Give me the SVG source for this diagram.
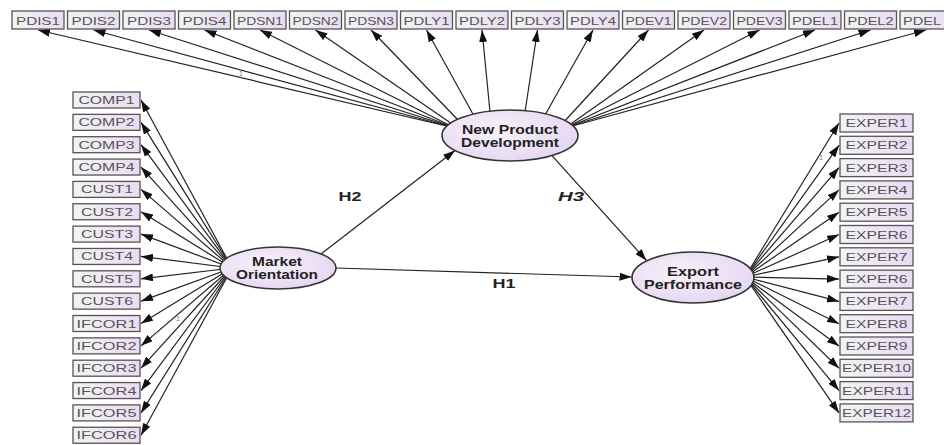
<svg xmlns="http://www.w3.org/2000/svg" width="944" height="445" viewBox="0 0 944 445">
<defs>
<linearGradient id="boxg" x1="0" y1="0" x2="1" y2="0">
<stop offset="0" stop-color="#f3f3f3"/>
<stop offset="1" stop-color="#eadbf3"/>
</linearGradient>
<radialGradient id="ellg" cx="0.4" cy="0.4" r="0.7">
<stop offset="0" stop-color="#f7f2fb"/>
<stop offset="1" stop-color="#e4d4f0"/>
</radialGradient>
<marker id="arr" markerUnits="userSpaceOnUse" markerWidth="13" markerHeight="8" refX="12" refY="4" orient="auto">
<path d="M0,0 L12,4 L0,8 Z" fill="#111"/>
</marker>
</defs>
<style>
.box{fill:url(#boxg);stroke:#555;stroke-width:1.3}
.bt{font-family:"Liberation Sans",Arial,sans-serif;font-size:11px;fill:#555;text-anchor:middle}
.ell{fill:url(#ellg);stroke:#333;stroke-width:1.6}
.et{font-family:"Liberation Sans",Arial,sans-serif;font-size:12px;font-weight:bold;fill:#222;text-anchor:middle}
.ln{stroke:#222;stroke-width:1.2;fill:none;marker-end:url(#arr)}
.hl{font-family:"Liberation Sans",Arial,sans-serif;font-size:13px;font-weight:bold;fill:#222;text-anchor:middle}
.one{font-family:"Liberation Sans",Arial,sans-serif;font-size:7px;fill:#777}
</style>
<rect width="944" height="445" fill="#fff"/>

<g id="connectors">
<line class="ln" x1="455" y1="128" x2="38" y2="30"/>
<line class="ln" x1="455" y1="128" x2="93.5" y2="30"/>
<line class="ln" x1="455" y1="128" x2="149" y2="30"/>
<line class="ln" x1="455" y1="128" x2="204.5" y2="30"/>
<line class="ln" x1="455" y1="128" x2="260" y2="30"/>
<line class="ln" x1="455" y1="126" x2="315.5" y2="30"/>
<line class="ln" x1="460" y1="122" x2="371" y2="30"/>
<line class="ln" x1="474" y1="116" x2="426.5" y2="30"/>
<line class="ln" x1="490" y1="112" x2="482" y2="30"/>
<line class="ln" x1="525" y1="112" x2="537.5" y2="30"/>
<line class="ln" x1="545" y1="115" x2="593" y2="30"/>
<line class="ln" x1="562" y1="124" x2="648.5" y2="30"/>
<line class="ln" x1="565" y1="128" x2="704" y2="30"/>
<line class="ln" x1="565" y1="128" x2="759.5" y2="30"/>
<line class="ln" x1="565" y1="128" x2="815" y2="30"/>
<line class="ln" x1="565" y1="128" x2="870.5" y2="30"/>
<line class="ln" x1="565" y1="128" x2="926" y2="30"/>
<line class="ln" x1="232" y1="268" x2="141" y2="100"/>
<line class="ln" x1="232" y1="268" x2="141" y2="122.35"/>
<line class="ln" x1="232" y1="268" x2="141" y2="144.7"/>
<line class="ln" x1="232" y1="268" x2="141" y2="167.05"/>
<line class="ln" x1="232" y1="268" x2="141" y2="189.4"/>
<line class="ln" x1="232" y1="268" x2="141" y2="211.75"/>
<line class="ln" x1="232" y1="268" x2="141" y2="234.1"/>
<line class="ln" x1="232" y1="268" x2="141" y2="256.45"/>
<line class="ln" x1="232" y1="268" x2="141" y2="278.8"/>
<line class="ln" x1="232" y1="268" x2="141" y2="301.15"/>
<line class="ln" x1="232" y1="268" x2="141" y2="323.5"/>
<line class="ln" x1="232" y1="268" x2="141" y2="345.85"/>
<line class="ln" x1="232" y1="268" x2="141" y2="368.2"/>
<line class="ln" x1="232" y1="268" x2="141" y2="390.55"/>
<line class="ln" x1="232" y1="268" x2="141" y2="412.9"/>
<line class="ln" x1="232" y1="268" x2="141" y2="435.25"/>
<line class="ln" x1="745" y1="277" x2="839" y2="123"/>
<line class="ln" x1="745" y1="277" x2="839" y2="145.3"/>
<line class="ln" x1="745" y1="277" x2="839" y2="167.6"/>
<line class="ln" x1="745" y1="277" x2="839" y2="189.9"/>
<line class="ln" x1="745" y1="277" x2="839" y2="212.2"/>
<line class="ln" x1="745" y1="277" x2="839" y2="234.5"/>
<line class="ln" x1="745" y1="277" x2="839" y2="256.8"/>
<line class="ln" x1="745" y1="277" x2="839" y2="279.1"/>
<line class="ln" x1="745" y1="277" x2="839" y2="301.4"/>
<line class="ln" x1="745" y1="277" x2="839" y2="323.7"/>
<line class="ln" x1="745" y1="277" x2="839" y2="346"/>
<line class="ln" x1="745" y1="277" x2="839" y2="368.3"/>
<line class="ln" x1="745" y1="277" x2="839" y2="390.6"/>
<line class="ln" x1="745" y1="277" x2="839" y2="412.9"/>
<line class="ln" x1="321" y1="254" x2="455" y2="150.5"/>
<line class="ln" x1="552" y1="155.6" x2="646.5" y2="260.5"/>
<line class="ln" x1="336" y1="268" x2="631.5" y2="277"/>
<text class="hl" x="350" y="201" textLength="23" lengthAdjust="spacingAndGlyphs">H2</text>
<text class="hl" x="571" y="201" font-style="italic" textLength="26" lengthAdjust="spacingAndGlyphs">H3</text>
<text class="hl" x="504" y="288" textLength="23" lengthAdjust="spacingAndGlyphs">H1</text>
<text class="one" x="239" y="76">1</text>
<text class="one" x="819" y="160">1</text>
<text class="one" x="176" y="321">1</text>
</g>

<g id="npd"><ellipse class="ell" cx="510" cy="135.5" rx="68" ry="25.5"/><text class="et" x="510" y="134" textLength="96" lengthAdjust="spacingAndGlyphs">New Product</text><text class="et" x="510" y="147" textLength="98" lengthAdjust="spacingAndGlyphs">Development</text></g>
<g id="mo"><ellipse class="ell" cx="278" cy="268" rx="58" ry="21"/><text class="et" x="277" y="266" textLength="50" lengthAdjust="spacingAndGlyphs">Market</text><text class="et" x="277" y="279" textLength="82" lengthAdjust="spacingAndGlyphs">Orientation</text></g>
<g id="ep"><ellipse class="ell" cx="693" cy="277.5" rx="61" ry="25.5"/><text class="et" x="693" y="276" textLength="52" lengthAdjust="spacingAndGlyphs">Export</text><text class="et" x="693" y="289" textLength="98" lengthAdjust="spacingAndGlyphs">Performance</text></g>

<g id="PDIS1"><rect class="box" x="12" y="11" width="52" height="18"/><text class="bt" x="38" y="24.5" textLength="44" lengthAdjust="spacingAndGlyphs">PDIS1</text></g>
<g id="PDIS2"><rect class="box" x="67.5" y="11" width="52" height="18"/><text class="bt" x="93.5" y="24.5" textLength="44" lengthAdjust="spacingAndGlyphs">PDIS2</text></g>
<g id="PDIS3"><rect class="box" x="123" y="11" width="52" height="18"/><text class="bt" x="149" y="24.5" textLength="44" lengthAdjust="spacingAndGlyphs">PDIS3</text></g>
<g id="PDIS4"><rect class="box" x="178.5" y="11" width="52" height="18"/><text class="bt" x="204.5" y="24.5" textLength="44" lengthAdjust="spacingAndGlyphs">PDIS4</text></g>
<g id="PDSN1"><rect class="box" x="234" y="11" width="52" height="18"/><text class="bt" x="260" y="24.5" textLength="46" lengthAdjust="spacingAndGlyphs">PDSN1</text></g>
<g id="PDSN2"><rect class="box" x="289.5" y="11" width="52" height="18"/><text class="bt" x="315.5" y="24.5" textLength="46" lengthAdjust="spacingAndGlyphs">PDSN2</text></g>
<g id="PDSN3"><rect class="box" x="345" y="11" width="52" height="18"/><text class="bt" x="371" y="24.5" textLength="46" lengthAdjust="spacingAndGlyphs">PDSN3</text></g>
<g id="PDLY1"><rect class="box" x="400.5" y="11" width="52" height="18"/><text class="bt" x="426.5" y="24.5" textLength="46" lengthAdjust="spacingAndGlyphs">PDLY1</text></g>
<g id="PDLY2"><rect class="box" x="456" y="11" width="52" height="18"/><text class="bt" x="482" y="24.5" textLength="46" lengthAdjust="spacingAndGlyphs">PDLY2</text></g>
<g id="PDLY3"><rect class="box" x="511.5" y="11" width="52" height="18"/><text class="bt" x="537.5" y="24.5" textLength="46" lengthAdjust="spacingAndGlyphs">PDLY3</text></g>
<g id="PDLY4"><rect class="box" x="567" y="11" width="52" height="18"/><text class="bt" x="593" y="24.5" textLength="46" lengthAdjust="spacingAndGlyphs">PDLY4</text></g>
<g id="PDEV1"><rect class="box" x="622.5" y="11" width="52" height="18"/><text class="bt" x="648.5" y="24.5" textLength="46" lengthAdjust="spacingAndGlyphs">PDEV1</text></g>
<g id="PDEV2"><rect class="box" x="678" y="11" width="52" height="18"/><text class="bt" x="704" y="24.5" textLength="46" lengthAdjust="spacingAndGlyphs">PDEV2</text></g>
<g id="PDEV3"><rect class="box" x="733.5" y="11" width="52" height="18"/><text class="bt" x="759.5" y="24.5" textLength="46" lengthAdjust="spacingAndGlyphs">PDEV3</text></g>
<g id="PDEL1"><rect class="box" x="789" y="11" width="52" height="18"/><text class="bt" x="815" y="24.5" textLength="46" lengthAdjust="spacingAndGlyphs">PDEL1</text></g>
<g id="PDEL2"><rect class="box" x="844.5" y="11" width="52" height="18"/><text class="bt" x="870.5" y="24.5" textLength="46" lengthAdjust="spacingAndGlyphs">PDEL2</text></g>
<g id="PDEL3"><rect class="box" x="900" y="11" width="52" height="18"/><text class="bt" x="903" y="24.5" style="text-anchor:start" textLength="38" lengthAdjust="spacingAndGlyphs">PDEL</text></g>

<g id="COMP1"><rect class="box" x="73" y="92" width="67" height="16"/><text class="bt" x="106.5" y="104" textLength="56" lengthAdjust="spacingAndGlyphs">COMP1</text></g>
<g id="COMP2"><rect class="box" x="73" y="114.35" width="67" height="16"/><text class="bt" x="106.5" y="126.35" textLength="56" lengthAdjust="spacingAndGlyphs">COMP2</text></g>
<g id="COMP3"><rect class="box" x="73" y="136.7" width="67" height="16"/><text class="bt" x="106.5" y="148.7" textLength="56" lengthAdjust="spacingAndGlyphs">COMP3</text></g>
<g id="COMP4"><rect class="box" x="73" y="159.05" width="67" height="16"/><text class="bt" x="106.5" y="171.05" textLength="56" lengthAdjust="spacingAndGlyphs">COMP4</text></g>
<g id="CUST1"><rect class="box" x="73" y="181.4" width="67" height="16"/><text class="bt" x="107" y="193.4" textLength="52" lengthAdjust="spacingAndGlyphs">CUST1</text></g>
<g id="CUST2"><rect class="box" x="73" y="203.75" width="67" height="16"/><text class="bt" x="107" y="215.75" textLength="52" lengthAdjust="spacingAndGlyphs">CUST2</text></g>
<g id="CUST3"><rect class="box" x="73" y="226.1" width="67" height="16"/><text class="bt" x="107" y="238.1" textLength="52" lengthAdjust="spacingAndGlyphs">CUST3</text></g>
<g id="CUST4"><rect class="box" x="73" y="248.45" width="67" height="16"/><text class="bt" x="107" y="260.45" textLength="52" lengthAdjust="spacingAndGlyphs">CUST4</text></g>
<g id="CUST5"><rect class="box" x="73" y="270.8" width="67" height="16"/><text class="bt" x="107" y="282.8" textLength="52" lengthAdjust="spacingAndGlyphs">CUST5</text></g>
<g id="CUST6"><rect class="box" x="73" y="293.15" width="67" height="16"/><text class="bt" x="107" y="305.15" textLength="52" lengthAdjust="spacingAndGlyphs">CUST6</text></g>
<g id="IFCOR1"><rect class="box" x="73" y="315.5" width="67" height="16"/><text class="bt" x="106.5" y="327.5" textLength="60" lengthAdjust="spacingAndGlyphs">IFCOR1</text></g>
<g id="IFCOR2"><rect class="box" x="73" y="337.85" width="67" height="16"/><text class="bt" x="106.5" y="349.85" textLength="60" lengthAdjust="spacingAndGlyphs">IFCOR2</text></g>
<g id="IFCOR3"><rect class="box" x="73" y="360.2" width="67" height="16"/><text class="bt" x="106.5" y="372.2" textLength="60" lengthAdjust="spacingAndGlyphs">IFCOR3</text></g>
<g id="IFCOR4"><rect class="box" x="73" y="382.55" width="67" height="16"/><text class="bt" x="106.5" y="394.55" textLength="60" lengthAdjust="spacingAndGlyphs">IFCOR4</text></g>
<g id="IFCOR5"><rect class="box" x="73" y="404.9" width="67" height="16"/><text class="bt" x="106.5" y="416.9" textLength="60" lengthAdjust="spacingAndGlyphs">IFCOR5</text></g>
<g id="IFCOR6"><rect class="box" x="73" y="427.25" width="67" height="16"/><text class="bt" x="106.5" y="439.25" textLength="60" lengthAdjust="spacingAndGlyphs">IFCOR6</text></g>

<g id="EXPER1"><rect class="box" x="840" y="114" width="73" height="18"/><text class="bt" x="876.5" y="127" textLength="62" lengthAdjust="spacingAndGlyphs">EXPER1</text></g>
<g id="EXPER2"><rect class="box" x="840" y="136.3" width="73" height="18"/><text class="bt" x="876.5" y="149.3" textLength="62" lengthAdjust="spacingAndGlyphs">EXPER2</text></g>
<g id="EXPER3"><rect class="box" x="840" y="158.6" width="73" height="18"/><text class="bt" x="876.5" y="171.6" textLength="62" lengthAdjust="spacingAndGlyphs">EXPER3</text></g>
<g id="EXPER4"><rect class="box" x="840" y="180.9" width="73" height="18"/><text class="bt" x="876.5" y="193.9" textLength="62" lengthAdjust="spacingAndGlyphs">EXPER4</text></g>
<g id="EXPER5"><rect class="box" x="840" y="203.2" width="73" height="18"/><text class="bt" x="876.5" y="216.2" textLength="62" lengthAdjust="spacingAndGlyphs">EXPER5</text></g>
<g id="EXPER6a"><rect class="box" x="840" y="225.5" width="73" height="18"/><text class="bt" x="876.5" y="238.5" textLength="62" lengthAdjust="spacingAndGlyphs">EXPER6</text></g>
<g id="EXPER7a"><rect class="box" x="840" y="247.8" width="73" height="18"/><text class="bt" x="876.5" y="260.8" textLength="62" lengthAdjust="spacingAndGlyphs">EXPER7</text></g>
<g id="EXPER6b"><rect class="box" x="840" y="270.1" width="73" height="18"/><text class="bt" x="876.5" y="283.1" textLength="62" lengthAdjust="spacingAndGlyphs">EXPER6</text></g>
<g id="EXPER7b"><rect class="box" x="840" y="292.4" width="73" height="18"/><text class="bt" x="876.5" y="305.4" textLength="62" lengthAdjust="spacingAndGlyphs">EXPER7</text></g>
<g id="EXPER8"><rect class="box" x="840" y="314.7" width="73" height="18"/><text class="bt" x="876.5" y="327.7" textLength="62" lengthAdjust="spacingAndGlyphs">EXPER8</text></g>
<g id="EXPER9"><rect class="box" x="840" y="337" width="73" height="18"/><text class="bt" x="876.5" y="350" textLength="62" lengthAdjust="spacingAndGlyphs">EXPER9</text></g>
<g id="EXPER10"><rect class="box" x="840" y="359.3" width="73" height="18"/><text class="bt" x="876.5" y="372.3" textLength="69" lengthAdjust="spacingAndGlyphs">EXPER10</text></g>
<g id="EXPER11"><rect class="box" x="840" y="381.6" width="73" height="18"/><text class="bt" x="876.5" y="394.6" textLength="69" lengthAdjust="spacingAndGlyphs">EXPER11</text></g>
<g id="EXPER12"><rect class="box" x="840" y="403.9" width="73" height="18"/><text class="bt" x="876.5" y="416.9" textLength="69" lengthAdjust="spacingAndGlyphs">EXPER12</text></g>
</svg>
